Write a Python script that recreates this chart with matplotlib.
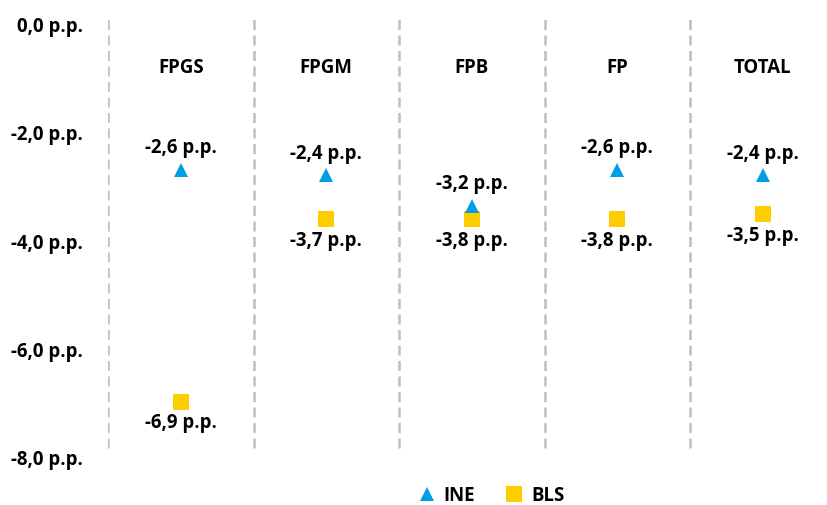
import matplotlib.pyplot as plt

plt.rcParams['font.family'] = ['Open Sans', 'DejaVu Sans']
plt.rcParams['font.weight'] = 'bold'

categories = ["FPGS", "FPGM", "FPB", "FP", "TOTAL"]
# marker positions as drawn in the chart
ine_values = [-2.68, -2.78, -3.35, -2.68, -2.78]
bls_values = [-6.98, -3.60, -3.60, -3.60, -3.50]
# data labels printed next to the markers
ine_labels = ["-2,6 p.p.", "-2,4 p.p.", "-3,2 p.p.", "-2,6 p.p.", "-2,4 p.p."]
bls_labels = ["-6,9 p.p.", "-3,7 p.p.", "-3,8 p.p.", "-3,8 p.p.", "-3,5 p.p."]
y_ticks = [0, -2, -4, -6, -8]
y_tick_labels = ["0,0 p.p.", "-2,0 p.p.", "-4,0 p.p.", "-6,0 p.p.", "-8,0 p.p."]

blue = '#009FE3'
yellow = '#FFCC00'
fs = 13.4

fig = plt.figure(figsize=(8.27, 5.05), dpi=100)
W, H = 827, 505
# 0 at 25 px, 54 px per unit; axes from +0.2 to -8
top_px, bot_px = 25 - 0.2 * 54, 25 + 8 * 54
ax = fig.add_axes([108 / W, 1 - bot_px / H, 1 - 108 / W, (bot_px - top_px) / H])

x = list(range(len(categories)))

for i in x:
    ax.axvline(i - 0.5, ymin=(bot_px - 448) / (bot_px - top_px), ymax=1,
               color='#BFBFBF', linestyle=(0, (4, 2.2)), linewidth=1.8, zorder=1)
    ax.text(i, -0.8, categories[i], ha='center', va='center', fontsize=fs, fontweight='bold')

ax.plot(x, ine_values, linestyle='none', marker='^', markersize=10.5, color=blue,
        markeredgewidth=0, label='INE', zorder=3)
ax.plot(x, bls_values, linestyle='none', marker='s', markersize=11.5, color=yellow,
        markeredgewidth=0, label='BLS', zorder=2)

for i in x:
    ax.annotate(ine_labels[i], (i, ine_values[i]), xytext=(0, 15.5), textcoords='offset points',
                ha='center', va='center', fontsize=fs, fontweight='bold')
    ax.annotate(bls_labels[i], (i, bls_values[i]), xytext=(0, -15.5), textcoords='offset points',
                ha='center', va='center', fontsize=fs, fontweight='bold')

ax.set_yticks(y_ticks)
ax.set_yticklabels(y_tick_labels, fontsize=fs, fontweight='bold')
ax.tick_params(axis='y', length=0, pad=18)
ax.set_xticks([])
ax.set_xlim(-0.5, -0.5 + (W - 108) / 145.5)
ax.set_ylim(-8, 0.2)
for s in ax.spines.values():
    s.set_visible(False)

fig.legend(loc='center', bbox_to_anchor=(490 / W, 1 - 496 / H), ncol=2, frameon=False,
           handletextpad=0.3, columnspacing=1.5, handlelength=1.2,
           prop={'weight': 'bold', 'size': fs})

fig.savefig('out.png', dpi=100)
